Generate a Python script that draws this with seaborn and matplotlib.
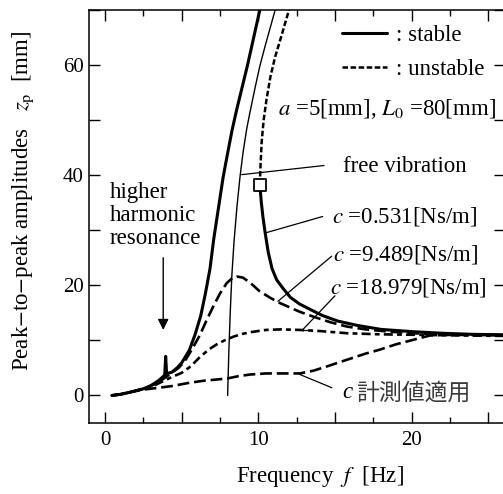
import matplotlib
matplotlib.use("Agg")
import matplotlib.pyplot as plt
from matplotlib.lines import Line2D
from matplotlib.ticker import MultipleLocator, FuncFormatter
import seaborn as sns

# ---------------- data ----------------
# c = 0.531 Ns/m, stable lower branch (thick solid, with higher harmonic spike)
f_c1_low = [0.45, 1.0, 1.5, 2.0, 2.6, 3.0, 3.5, 3.9, 3.96, 4.02, 4.35, 4.7, 5.0, 5.5, 5.87,
            6.25, 6.55, 6.85, 7.1, 7.4, 7.7, 8.0, 8.3, 8.6, 8.95, 9.3, 9.7, 10.1]
z_c1_low = [0.0, 0.2, 0.5, 0.85, 1.3, 1.8, 2.7, 3.7, 7.1, 4.0, 4.2, 5.0, 5.9, 8.2, 11.0,
            14.5, 18.5, 23.0, 28.5, 34.0, 39.5, 44.0, 48.3, 52.0, 56.0, 60.0, 65.0, 70.0]
# c = 0.531 Ns/m, stable upper branch after the jump (thick solid)
f_c1_high = [10.1, 10.2, 10.3, 10.45, 10.65, 10.9, 11.2, 11.6, 12.1, 12.7, 13.4, 14.2, 15.2,
             16.5, 18.0, 20.0, 22.0, 24.0, 26.5]
z_c1_high = [38.3, 35.0, 32.5, 29.5, 26.0, 23.0, 21.0, 19.5, 17.8, 16.6, 15.6, 14.5, 13.5,
             12.7, 12.0, 11.6, 11.3, 11.1, 11.0]
# c = 0.531 Ns/m, unstable branch (short dashes)
f_c1_unst = [10.1, 10.15, 10.22, 10.35, 10.55, 10.8, 11.1, 11.5, 12.0]
z_c1_unst = [38.3, 42.0, 46.0, 50.0, 54.0, 58.0, 61.5, 65.2, 70.0]
# jump point (open square)
f_jump = [10.1]
z_jump = [38.3]
# free vibration backbone (thin solid)
f_free = [8.0, 8.08, 8.17, 8.28, 8.42, 8.6, 8.8, 9.0, 9.25, 9.5, 9.8, 10.1, 10.45, 10.8, 11.1]
z_free = [0.0, 8.0, 15.0, 22.0, 28.0, 34.0, 39.5, 44.0, 48.5, 52.0, 56.0, 59.8, 63.5, 67.0, 70.0]
# c = 9.489 Ns/m
f_c2 = [0.45, 1.0, 1.5, 2.0, 2.6, 3.2, 3.8, 4.3, 4.8, 5.2, 5.7, 6.2, 6.6, 7.07, 7.5, 7.94,
        8.3, 8.6, 9.0, 9.5, 10.1, 10.8, 11.4, 12.7, 13.6, 14.7, 15.8, 17.0, 18.5, 20.1, 22.0,
        24.0, 26.5]
z_c2 = [0.0, 0.2, 0.5, 0.85, 1.3, 2.0, 3.0, 4.0, 5.0, 6.2, 8.5, 11.0, 13.5, 16.2, 18.5, 20.4,
        21.3, 21.6, 21.4, 20.4, 18.9, 17.7, 16.8, 15.2, 14.3, 13.3, 12.5, 12.0, 11.6, 11.3, 11.1,
        11.0, 10.9]
# c = 18.979 Ns/m
f_c3 = [0.45, 1.0, 1.5, 2.0, 2.6, 3.2, 3.8, 4.4, 5.0, 5.6, 6.2, 6.8, 7.3, 7.8, 8.4, 9.0, 9.5,
        10.5, 11.5, 12.7, 14.0, 15.8, 18.0, 20.7, 23.0, 26.5]
z_c3 = [0.0, 0.2, 0.5, 0.85, 1.2, 1.8, 2.6, 3.4, 4.1, 5.3, 7.0, 8.4, 9.3, 10.0, 10.7, 11.2,
        11.5, 11.9, 12.0, 11.9, 11.7, 11.3, 11.1, 11.0, 10.9, 10.8]
# measured c applied
f_cm = [0.45, 1.0, 1.5, 2.0, 2.6, 3.5, 4.35, 5.5, 6.5, 7.3, 8.0, 8.7, 9.46, 10.5, 11.4, 12.7,
        13.6, 14.5, 15.8, 17.0, 17.9, 19.0, 20.1, 21.2, 22.5, 24.0, 26.5]
z_cm = [0.0, 0.2, 0.5, 0.8, 1.1, 1.4, 1.7, 2.3, 2.7, 2.9, 3.1, 3.5, 3.8, 4.0, 4.0, 4.0,
        4.5, 5.3, 6.5, 7.6, 8.3, 9.3, 10.1, 10.9, 11.0, 11.0, 11.0]

x_ticklabels = ["0", "10", "20"]
y_ticklabels = ["0", "20", "40", "60"]

# ---------------- style ----------------
sns.set_theme(style="ticks")
plt.rcParams["font.family"] = ["Liberation Serif", "Noto Sans CJK JP"]
plt.rcParams["mathtext.fontset"] = "stix"
plt.rcParams["lines.scale_dashes"] = False
plt.rcParams["axes.linewidth"] = 1.1
plt.rcParams["axes.edgecolor"] = "black"
plt.rcParams["xtick.color"] = "black"
plt.rcParams["ytick.color"] = "black"
plt.rcParams["text.color"] = "black"
plt.rcParams["axes.labelcolor"] = "black"

FS = 15      # tick labels
FT = 16.5    # annotations / labels

fig = plt.figure(figsize=(5.03, 4.94), dpi=100)
ax = fig.add_axes([89 / 503, 1 - 423 / 494, (505 - 89) / 503, (423 - 10) / 494])

K = "black"
sns.lineplot(x=f_free, y=z_free, ax=ax, color=K, lw=1.0, sort=False, estimator=None)
sns.lineplot(x=f_cm, y=z_cm, ax=ax, color=K, lw=1.9, ls=(0, (8.5, 3.5)), sort=False, estimator=None)
sns.lineplot(x=f_c3, y=z_c3, ax=ax, color=K, lw=1.9, ls=(0, (6.5, 3, 3.5, 3)), sort=False, estimator=None)
sns.lineplot(x=f_c2, y=z_c2, ax=ax, color=K, lw=1.9, ls=(0, (8.5, 3.5)), sort=False, estimator=None)
sns.lineplot(x=f_c1_unst, y=z_c1_unst, ax=ax, color=K, lw=1.8, ls=(0, (4, 1.8)), sort=False, estimator=None)
sns.lineplot(x=f_c1_low, y=z_c1_low, ax=ax, color=K, lw=2.2, sort=False, estimator=None)
sns.lineplot(x=f_c1_high, y=z_c1_high, ax=ax, color=K, lw=2.2, sort=False, estimator=None)
sns.scatterplot(x=f_jump, y=z_jump, ax=ax, marker="s", s=75, facecolor="white",
                edgecolor=K, linewidth=1.3, zorder=5)

ax.set_xlim(-1.04, 26.09)
ax.set_ylim(-5, 70)

ax.xaxis.set_major_locator(MultipleLocator(5))
ax.xaxis.set_minor_locator(MultipleLocator(2.5))
ax.yaxis.set_major_locator(MultipleLocator(10))
ax.xaxis.set_major_formatter(FuncFormatter(lambda v, p: f"{int(round(v))}" if f"{int(round(v))}" in x_ticklabels and abs(v % 10) < 1e-6 else ""))
ax.yaxis.set_major_formatter(FuncFormatter(lambda v, p: f"{int(round(v))}" if f"{int(round(v))}" in y_ticklabels and abs(v % 20) < 1e-6 else ""))
ax.tick_params(which="both", direction="in", top=True, right=True, labelsize=FS, width=1.0)
ax.tick_params(axis="x", which="major", length=8, pad=6)
ax.tick_params(axis="x", which="minor", length=4.5)
ax.tick_params(axis="y", which="major", length=8, pad=4)
for s in ax.spines.values():
    s.set_visible(True)
    s.set_linewidth(1.1)

ax.set_xlabel(r"Frequency  $f$  [Hz]", fontsize=FT)
ax.set_ylabel(r"Peak$-$to$-$peak amplitudes   $z_{\rm p}$  [mm]", fontsize=FT)
ax.xaxis.set_label_coords(0.555, -0.1)
ax.yaxis.set_label_coords(-0.127, 0.537)

# legend
handles = [Line2D([], [], color=K, lw=2.2),
           Line2D([], [], color=K, lw=1.8, ls=(0, (4, 1.8)))]
ax.legend(handles, [": stable", ": unstable"], loc="upper left",
          bbox_to_anchor=(342 / 503, 1 - 25 / 494), bbox_transform=fig.transFigure,
          frameon=False, fontsize=FT, handlelength=1.97, handletextpad=0.4,
          labelspacing=0.55, borderpad=0, borderaxespad=0)

# annotations
ax.text(11.29, 52.0, r"$a$ =5[mm], $L_0$ =80[mm]", fontsize=FT, va="center", ha="left")
ax.text(15.52, 41.6, "free vibration", fontsize=FT, va="center", ha="left")
ax.text(14.8, 32.5, r"$c$ =0.531[Ns/m]", fontsize=FT, va="center", ha="left")
ax.text(14.87, 25.6, r"$c$ =9.489[Ns/m]", fontsize=FT, va="center", ha="left")
ax.text(14.68, 19.6, r"$c$ =18.979[Ns/m]", fontsize=FT, va="center", ha="left")
ax.text(15.46, 0.5, "c", fontsize=FT, style="italic", va="center", ha="left")
ax.text(16.4, 0.5, "計測値適用", fontsize=16.5, va="center", ha="left", color="#3a3a3a",
        family=["Noto Sans CJK JP"])
ax.text(0.33, 32.7, "higher\nharmonic\nresonance", fontsize=FT, va="center", ha="left",
        linespacing=1.13)

# leader lines
lead = dict(color=K, lw=0.9)
ax.plot([14.29, 8.92], [41.76, 40.1], **lead)
ax.plot([14.2, 10.44], [32.5, 29.5], **lead)
ax.plot([14.79, 11.28], [25.3, 17.1], **lead)
ax.plot([15.0, 12.85, 13.5], [18.1, 11.8, 11.8], **lead)
ax.plot([14.8, 12.72], [1.4, 3.8], **lead)

# arrow to higher harmonic resonance
ax.annotate("", xy=(3.8, 11.9), xytext=(3.8, 25.0),
            arrowprops=dict(arrowstyle="-|>", color=K, lw=1.0, mutation_scale=16,
                            shrinkA=0, shrinkB=0))

fig.savefig("out.png", dpi=100)
